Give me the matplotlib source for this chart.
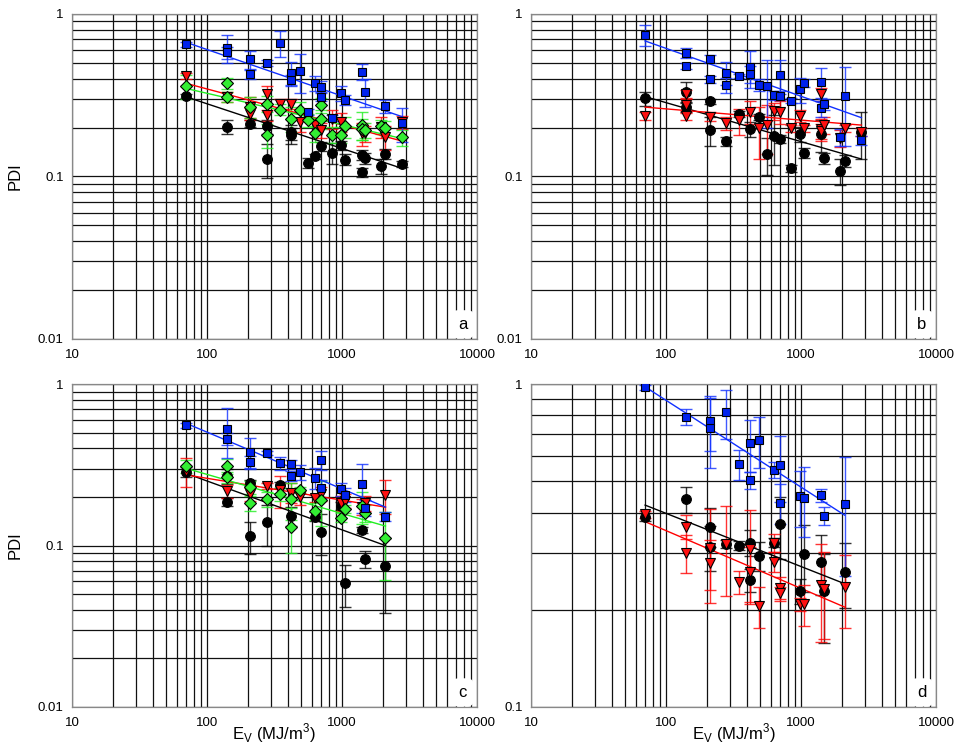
import matplotlib
matplotlib.use('Agg')
import matplotlib.pyplot as plt
from matplotlib.ticker import LogLocator, FixedLocator, FixedFormatter, NullFormatter

plt.rcParams['font.family'] = ['Liberation Sans', 'DejaVu Sans']

# ---------------- panel a ----------------
a_sq_x = [70, 140, 140, 210, 210, 280, 350, 420, 420, 490, 560, 630, 700, 700, 840, 980, 1050, 1400, 1470, 2100, 2800]
a_sq_y = [0.65, 0.62, 0.58, 0.525, 0.43, 0.50, 0.66, 0.435, 0.39, 0.447, 0.25, 0.377, 0.357, 0.31, 0.229, 0.327, 0.295, 0.441, 0.332, 0.27, 0.212]
a_sq_e = [0.02, 0.12, 0.05, 0.07, 0.03, 0.02, 0.12, 0.07, 0.03, 0.12, 0.01, 0.04, 0.03, 0.02, 0.01, 0.035, 0.02, 0.05, 0.065, 0.025, 0.05]
a_sq_fit = [0.669, 0.233]

a_tri_x = [70, 140, 210, 210, 280, 280, 350, 420, 490, 630, 700, 840, 980, 1400, 1470, 1960, 2100, 2800]
a_tri_y = [0.415, 0.309, 0.268, 0.244, 0.321, 0.238, 0.279, 0.279, 0.217, 0.207, 0.193, 0.225, 0.217, 0.184, 0.184, 0.202, 0.175, 0.217]
a_tri_e = [0.02, 0.02, 0.04, 0.02, 0.04, 0.02, 0.02, 0.02, 0.03, 0.02, 0.02, 0.03, 0.03, 0.03, 0.02, 0.03, 0.03, 0.02]
a_tri_fit = [0.374, 0.165]

a_dia_x = [70, 140, 140, 210, 280, 280, 350, 420, 490, 560, 630, 700, 700, 840, 980, 1050, 1400, 1400, 1470, 1960, 2100, 2800]
a_dia_y = [0.361, 0.374, 0.309, 0.268, 0.281, 0.179, 0.258, 0.227, 0.258, 0.222, 0.184, 0.275, 0.225, 0.181, 0.181, 0.203, 0.208, 0.197, 0.193, 0.203, 0.20, 0.174]
a_dia_e = [0.06, 0.03, 0.02, 0.04, 0.03, 0.03, 0.02, 0.04, 0.03, 0.02, 0.02, 0.03, 0.03, 0.02, 0.02, 0.03, 0.04, 0.03, 0.02, 0.02, 0.02, 0.02]
a_dia_fit = [0.348, 0.171]

a_cir_x = [70, 140, 210, 280, 280, 420, 420, 560, 630, 700, 840, 980, 1050, 1400, 1400, 1470, 1960, 2100, 2800]
a_cir_y = [0.312, 0.202, 0.211, 0.203, 0.128, 0.188, 0.179, 0.121, 0.133, 0.154, 0.14, 0.156, 0.127, 0.136, 0.106, 0.13, 0.116, 0.138, 0.119]
a_cir_e = [0.01, 0.02, 0.01, 0.02, 0.03, 0.02, 0.02, 0.008, 0.005, 0.01, 0.02, 0.01, 0.01, 0.01, 0.007, 0.01, 0.012, 0.01, 0.005]
a_cir_fit = [0.309, 0.112]

# ---------------- panel b ----------------
b_sq_x = [70, 140, 140, 210, 210, 280, 280, 350, 420, 420, 490, 560, 630, 700, 700, 840, 980, 1050, 1400, 1400, 1470, 1960, 2100, 2800]
b_sq_y = [0.742, 0.578, 0.478, 0.528, 0.398, 0.435, 0.365, 0.415, 0.469, 0.425, 0.365, 0.36, 0.317, 0.421, 0.314, 0.292, 0.345, 0.376, 0.383, 0.262, 0.278, 0.175, 0.314, 0.167]
b_sq_e = [0.11, 0.04, 0.02, 0.03, 0.02, 0.07, 0.04, 0.01, 0.12, 0.05, 0.03, 0.16, 0.02, 0.1, 0.02, 0.01, 0.06, 0.02, 0.08, 0.03, 0.02, 0.02, 0.16, 0.01]
b_sq_fit = [0.682, 0.23]

b_tri_x = [70, 140, 140, 140, 210, 280, 350, 420, 490, 560, 630, 700, 840, 980, 1050, 1400, 1400, 1400, 1470, 1960, 2100, 2800]
b_tri_y = [0.236, 0.32, 0.275, 0.237, 0.233, 0.212, 0.221, 0.25, 0.198, 0.207, 0.252, 0.25, 0.198, 0.237, 0.198, 0.32, 0.195, 0.19, 0.207, 0.172, 0.198, 0.188]
b_tri_e = [0.012, 0.02, 0.03, 0.015, 0.015, 0.02, 0.04, 0.04, 0.07, 0.07, 0.03, 0.04, 0.01, 0.02, 0.01, 0.03, 0.03, 0.02, 0.025, 0.02, 0.01, 0.01]
b_tri_fit = [0.267, 0.207]

b_cir_x = [70, 140, 140, 210, 210, 280, 350, 420, 490, 560, 630, 700, 840, 980, 1050, 1400, 1470, 1960, 2100, 2800]
b_cir_y = [0.302, 0.332, 0.268, 0.291, 0.193, 0.165, 0.243, 0.195, 0.233, 0.137, 0.178, 0.17, 0.112, 0.182, 0.139, 0.182, 0.13, 0.108, 0.125, 0.188]
b_cir_e = [0.03, 0.05, 0.02, 0.01, 0.04, 0.01, 0.01, 0.02, 0.01, 0.035, 0.06, 0.01, 0.005, 0.02, 0.01, 0.04, 0.01, 0.02, 0.01, 0.06]
b_cir_fit = [0.31, 0.128]

# ---------------- panel c ----------------
c_sq_x = [70, 140, 140, 210, 210, 280, 350, 420, 420, 490, 630, 700, 700, 980, 1050, 1400, 1470, 2100]
c_sq_y = [0.557, 0.527, 0.459, 0.381, 0.33, 0.376, 0.326, 0.32, 0.27, 0.286, 0.263, 0.339, 0.226, 0.223, 0.207, 0.24, 0.172, 0.151]
c_sq_e = [0.02, 0.18, 0.04, 0.08, 0.03, 0.01, 0.03, 0.02, 0.02, 0.03, 0.04, 0.045, 0.03, 0.02, 0.02, 0.08, 0.02, 0.01]
c_sq_fit = [0.572, 0.173]

c_tri_x = [70, 140, 210, 280, 350, 420, 490, 630, 700, 980, 1050, 1400, 1470, 2100]
c_tri_y = [0.29, 0.218, 0.208, 0.234, 0.22, 0.213, 0.199, 0.197, 0.21, 0.183, 0.19, 0.174, 0.183, 0.206]
c_tri_e = [0.06, 0.02, 0.02, 0.01, 0.05, 0.03, 0.02, 0.01, 0.02, 0.02, 0.02, 0.02, 0.02, 0.05]
c_tri_fit = [0.274, 0.173]

c_dia_x = [70, 140, 140, 210, 210, 280, 350, 420, 420, 490, 630, 700, 980, 1050, 1400, 1470, 2100]
c_dia_y = [0.311, 0.311, 0.265, 0.23, 0.183, 0.194, 0.208, 0.195, 0.13, 0.221, 0.164, 0.192, 0.149, 0.169, 0.176, 0.159, 0.111]
c_dia_e = [0.03, 0.035, 0.02, 0.02, 0.02, 0.02, 0.02, 0.05, 0.04, 0.01, 0.02, 0.06, 0.01, 0.01, 0.04, 0.02, 0.05]
c_dia_fit = [0.301, 0.132]

c_cir_x = [70, 140, 140, 210, 210, 280, 350, 420, 630, 700, 980, 1050, 1400, 1470, 2100]
c_cir_y = [0.287, 0.27, 0.187, 0.245, 0.114, 0.139, 0.237, 0.153, 0.151, 0.122, 0.175, 0.0585, 0.125, 0.0824, 0.0752]
c_cir_e = [0.02, 0.03, 0.01, 0.01, 0.025, 0.04, 0.01, 0.02, 0.01, 0.035, 0.01, 0.017, 0.005, 0.01, 0.037]
c_cir_fit = [0.28, 0.10]

# ---------------- panel d ----------------
d_sq_x = [70, 140, 210, 210, 280, 350, 420, 420, 490, 630, 700, 700, 980, 1050, 1400, 1470, 2100]
d_sq_y = [0.977, 0.792, 0.77, 0.729, 0.817, 0.565, 0.655, 0.505, 0.671, 0.542, 0.561, 0.429, 0.45, 0.445, 0.453, 0.39, 0.424]
d_sq_e = [0.02, 0.045, 0.15, 0.18, 0.14, 0.06, 0.12, 0.03, 0.12, 0.03, 0.13, 0.06, 0.09, 0.11, 0.02, 0.025, 0.17]
d_sq_fit = [0.981, 0.393]

d_tri_x = [70, 140, 140, 210, 210, 280, 350, 420, 420, 490, 630, 630, 700, 700, 980, 1050, 1400, 1470, 2100]
d_tri_y = [0.395, 0.362, 0.30, 0.31, 0.28, 0.32, 0.244, 0.308, 0.262, 0.206, 0.323, 0.282, 0.233, 0.226, 0.208, 0.208, 0.239, 0.232, 0.236]
d_tri_e = [0.01, 0.03, 0.04, 0.1, 0.05, 0.1, 0.02, 0.1, 0.05, 0.03, 0.02, 0.02, 0.02, 0.01, 0.01, 0.03, 0.08, 0.07, 0.06]
d_tri_fit = [0.375, 0.204]

d_cir_x = [70, 140, 210, 210, 280, 350, 420, 420, 490, 630, 700, 980, 1050, 1400, 1470, 2100]
d_cir_y = [0.388, 0.44, 0.362, 0.313, 0.32, 0.316, 0.323, 0.247, 0.294, 0.323, 0.368, 0.229, 0.297, 0.282, 0.228, 0.262]
d_cir_e = [0.01, 0.04, 0.05, 0.05, 0.01, 0.01, 0.03, 0.02, 0.03, 0.01, 0.08, 0.02, 0.07, 0.06, 0.07, 0.06]
d_cir_fit = [0.422, 0.241]

x_ticks = [10, 100, 1000, 10000]
x_tick_labels = ['10', '100', '1000', '10000']

# marker style per group
STYLE = {
    'cir': dict(marker='o', face='#000000', line='#000000', ms=7.0),
    'tri': dict(marker='v', face='#ff1010', line='#ff0000', ms=7.0),
    'dia': dict(marker='D', face='#33ee33', line='#22ee22', ms=5.8),
    'sq':  dict(marker='s', face='#0022ee', line='#1030ff', ms=6.3),
}


def draw_series(ax, kind, x, y, e, fit):
    st = STYLE[kind]
    ax.errorbar(x, y, yerr=e, fmt='none', ecolor=st['line'], elinewidth=1.0,
                capsize=4, capthick=1.0, alpha=0.8, zorder=3)
    ax.plot([min(x), max(x)], fit, '-', color=st['line'], lw=1.0, zorder=4)
    ax.plot(x, y, linestyle='none', marker=st['marker'], ms=st['ms'],
            mfc=st['face'], mec='black', mew=0.8, zorder=5)


def setup_axes(ax, ylo, yticks, ylabels, tag):
    ax.set_xscale('log')
    ax.set_yscale('log')
    ax.set_xlim(10, 10000)
    ax.set_ylim(ylo, 1)
    ax.xaxis.set_major_locator(FixedLocator(x_ticks))
    ax.xaxis.set_major_formatter(FixedFormatter(x_tick_labels))
    ax.yaxis.set_major_locator(FixedLocator(yticks))
    ax.yaxis.set_major_formatter(FixedFormatter(ylabels))
    for axis in (ax.xaxis, ax.yaxis):
        axis.set_minor_locator(LogLocator(base=10, subs=range(2, 10), numticks=20))
        axis.set_minor_formatter(NullFormatter())
    ax.tick_params(which='both', length=0, labelsize=9.5)
    ax.tick_params(axis='x', pad=7)
    ax.tick_params(axis='y', pad=6)
    ax.grid(True, which='both', color='#111111', lw=0.9, zorder=0)
    ax.set_axisbelow(True)
    for sp in ax.spines.values():
        sp.set_color('#888888')
        sp.set_linewidth(0.9)
    ax.text(0.965, 0.045, tag, transform=ax.transAxes, ha='center', va='center',
            fontsize=12, zorder=6,
            bbox=dict(boxstyle='round,pad=0.4', fc='white', ec='none'))


fig = plt.figure(figsize=(9.62, 7.49), dpi=100)
ax_a = fig.add_axes([0.0748, 0.5474, 0.421, 0.434])
ax_b = fig.add_axes([0.552, 0.5474, 0.421, 0.434])
ax_c = fig.add_axes([0.0748, 0.0561, 0.421, 0.431])
ax_d = fig.add_axes([0.552, 0.0561, 0.421, 0.431])

setup_axes(ax_a, 0.01, [0.01, 0.1, 1], ['0.01', '0.1', '1'], 'a')
setup_axes(ax_b, 0.01, [0.01, 0.1, 1], ['0.01', '0.1', '1'], 'b')
setup_axes(ax_c, 0.01, [0.01, 0.1, 1], ['0.01', '0.1', '1'], 'c')
setup_axes(ax_d, 0.1, [0.1, 1], ['0.1', '1'], 'd')

draw_series(ax_a, 'cir', a_cir_x, a_cir_y, a_cir_e, a_cir_fit)
draw_series(ax_a, 'tri', a_tri_x, a_tri_y, a_tri_e, a_tri_fit)
draw_series(ax_a, 'dia', a_dia_x, a_dia_y, a_dia_e, a_dia_fit)
draw_series(ax_a, 'sq', a_sq_x, a_sq_y, a_sq_e, a_sq_fit)

draw_series(ax_b, 'cir', b_cir_x, b_cir_y, b_cir_e, b_cir_fit)
draw_series(ax_b, 'tri', b_tri_x, b_tri_y, b_tri_e, b_tri_fit)
draw_series(ax_b, 'sq', b_sq_x, b_sq_y, b_sq_e, b_sq_fit)

draw_series(ax_c, 'cir', c_cir_x, c_cir_y, c_cir_e, c_cir_fit)
draw_series(ax_c, 'tri', c_tri_x, c_tri_y, c_tri_e, c_tri_fit)
draw_series(ax_c, 'dia', c_dia_x, c_dia_y, c_dia_e, c_dia_fit)
draw_series(ax_c, 'sq', c_sq_x, c_sq_y, c_sq_e, c_sq_fit)

draw_series(ax_d, 'cir', d_cir_x, d_cir_y, d_cir_e, d_cir_fit)
draw_series(ax_d, 'tri', d_tri_x, d_tri_y, d_tri_e, d_tri_fit)
draw_series(ax_d, 'sq', d_sq_x, d_sq_y, d_sq_e, d_sq_fit)

for ax in (ax_a, ax_c):
    ax.set_ylabel('PDI', fontsize=12)
    ax.yaxis.set_label_coords(-0.123, 0.5)
for ax in (ax_c, ax_d):
    ax.set_xlabel(r'E$_\mathregular{V}$ (MJ/m$^\mathregular{3}$)', fontsize=12)
    ax.xaxis.set_label_coords(0.5, -0.045)

fig.savefig('out.png', dpi=100)
